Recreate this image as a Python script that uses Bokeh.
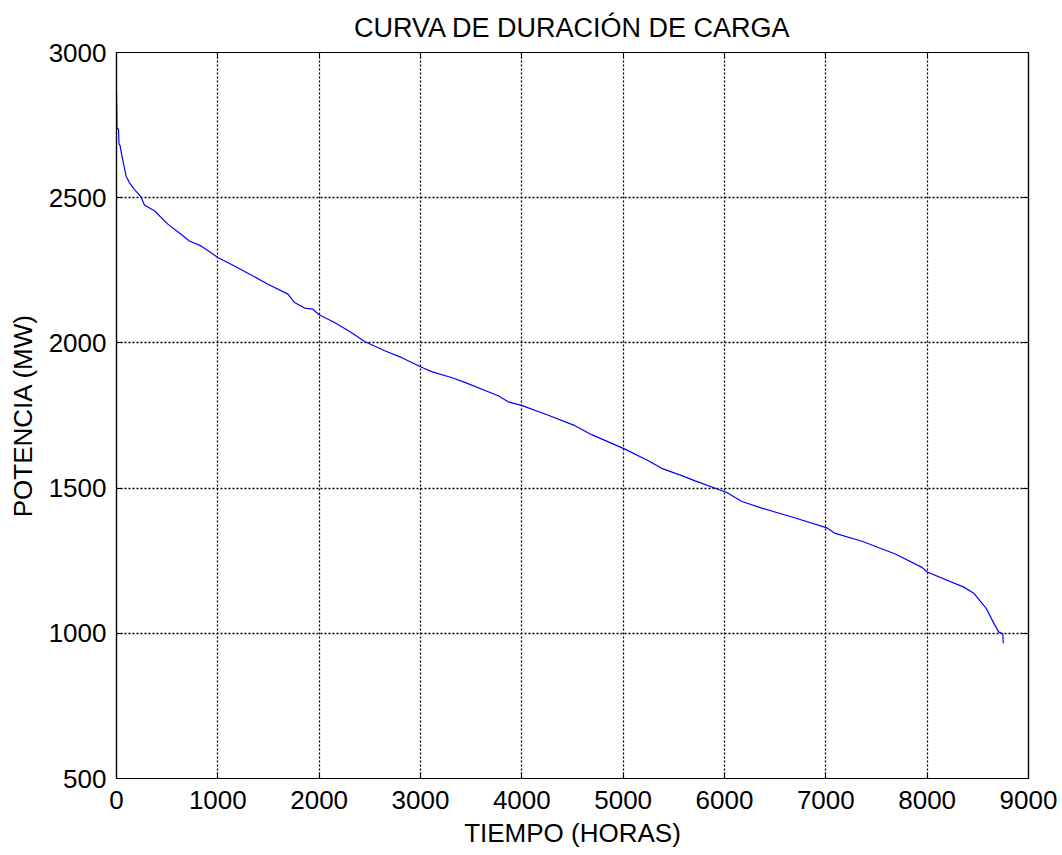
from bokeh.plotting import figure
from bokeh.models import LinearAxis, FixedTicker
from bokeh.embed import file_html
from bokeh.resources import INLINE

# Load duration curve (hours sorted by descending demand)
hours = [0, 5, 20, 25, 35, 50, 77, 94, 127, 176, 242, 275, 374, 506, 637, 719,
         835, 1000, 1164, 1329, 1494, 1692, 1757, 1856, 1938, 2000, 2152, 2317,
         2449, 2646, 2811, 3000, 3108, 3305, 3437, 3767, 3866, 4004, 4261, 4524,
         4689, 5012, 5249, 5380, 5578, 5710, 6023, 6171, 6369, 6698, 7011, 7093,
         7357, 7686, 7949, 8000, 8361, 8460, 8588, 8657, 8707, 8747, 8750]
power_mw = [2860, 2740, 2735, 2685, 2680, 2650, 2604, 2575, 2552, 2529, 2503, 2475,
            2455, 2409, 2374, 2351, 2334, 2294, 2265, 2234, 2202, 2168, 2139, 2120,
            2116, 2097, 2070, 2036, 2005, 1973, 1950, 1918, 1901, 1881, 1864, 1818,
            1797, 1784, 1751, 1715, 1684, 1635, 1594, 1568, 1543, 1525, 1485, 1454,
            1431, 1397, 1363, 1344, 1317, 1273, 1227, 1211, 1159, 1138, 1083, 1035,
            1004, 998, 966]

x_ticks = [0, 1000, 2000, 3000, 4000, 5000, 6000, 7000, 8000, 9000]
y_ticks = [500, 1000, 1500, 2000, 2500, 3000]

title_text = "CURVA DE DURACIÓN DE CARGA"
x_label = "TIEMPO (HORAS)"
y_label = "POTENCIA (MW)"

FONT = "Liberation Sans"
FS = "26px"

p = figure(width=1062, height=855, x_range=(0, 9000), y_range=(500, 3000),
           output_backend="svg", toolbar_location=None,
           min_border_left=116, min_border_right=34, min_border_top=52,
           min_border_bottom=77)

p.title.text = title_text
p.title.align = "center"
p.title.text_font = FONT
p.title.text_font_size = "27px"
p.title.text_font_style = "normal"
p.title.text_color = "black"
p.title.standoff = 19

p.background_fill_color = "white"
p.border_fill_color = "white"
p.outline_line_color = "black"
p.outline_line_width = 1.2

for ax, ticks in ((p.xaxis[0], x_ticks), (p.yaxis[0], y_ticks)):
    ax.ticker = FixedTicker(ticks=ticks)
    ax.major_tick_in = 6
    ax.major_tick_out = 0
    ax.minor_tick_in = 0
    ax.minor_tick_out = 0
    ax.major_tick_line_color = "black"
    ax.axis_line_color = "black"
    ax.axis_line_width = 1.2
    ax.major_label_text_font = FONT
    ax.major_label_text_font_size = FS
    ax.major_label_text_color = "black"
    ax.axis_label_text_font = FONT
    ax.axis_label_text_font_size = "26px"
    ax.axis_label_text_font_style = "normal"
    ax.axis_label_text_color = "black"

p.xaxis.axis_label = x_label
p.yaxis.axis_label = y_label
p.xaxis.major_label_standoff = 12
p.xaxis.axis_label_standoff = 6
p.yaxis.major_label_standoff = 10
p.yaxis.axis_label_standoff = 8

top = LinearAxis(ticker=FixedTicker(ticks=x_ticks), major_tick_in=6, major_tick_out=0,
                 minor_tick_in=0, minor_tick_out=0, major_label_text_font_size="1px",
                 major_label_text_color=None, major_label_standoff=0,
                 axis_line_color="black", axis_line_width=1.2)
right = LinearAxis(ticker=FixedTicker(ticks=y_ticks), major_tick_in=6, major_tick_out=0,
                   minor_tick_in=0, minor_tick_out=0, major_label_text_font_size="1px",
                   major_label_text_color=None, major_label_standoff=0,
                   axis_line_color="black", axis_line_width=1.2)
p.add_layout(top, "above")
p.add_layout(right, "right")

p.xgrid.ticker = FixedTicker(ticks=x_ticks)
p.ygrid.ticker = FixedTicker(ticks=y_ticks)
for g in (p.xgrid[0], p.ygrid[0]):
    g.grid_line_color = "black"
    g.grid_line_width = 1.3
    g.grid_line_dash = "2 2"
    g.grid_line_alpha = 1.0

p.line(hours, power_mw, line_color="#0000ff", line_width=1.2)

open("out.html", "w").write(file_html(p, INLINE))
